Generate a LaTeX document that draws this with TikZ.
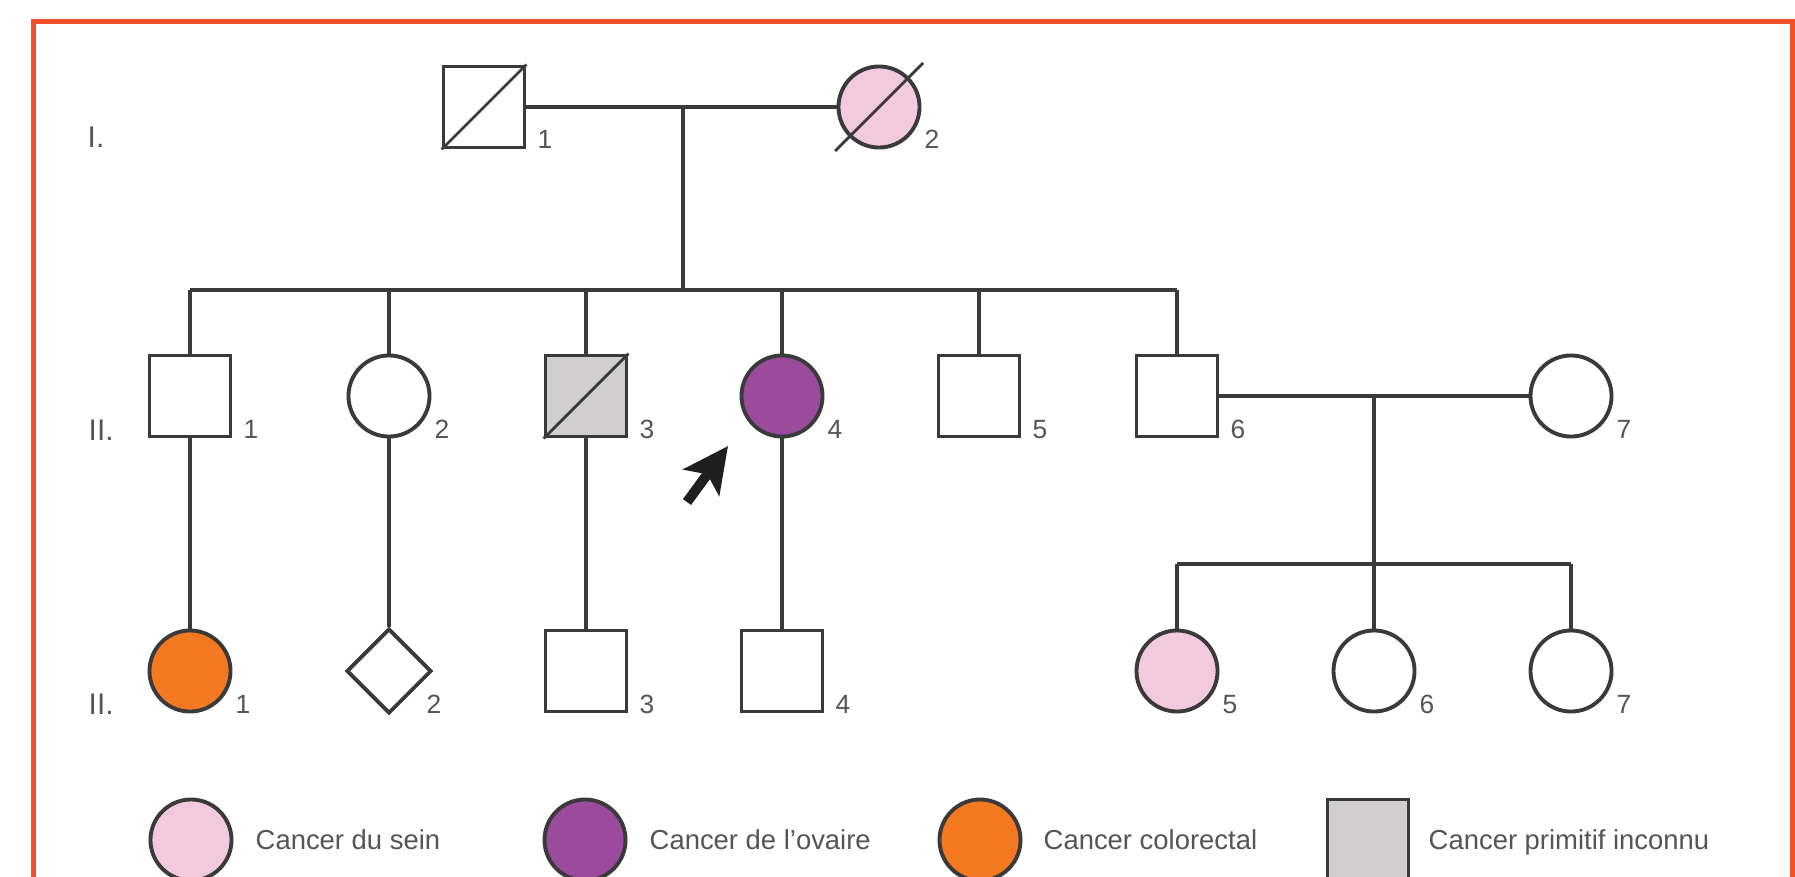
\documentclass[tikz,border=0pt]{standalone}
\usepackage{fontspec}
\setmainfont{Liberation Sans}
\usepackage{xcolor}
\usepackage{tikz}
\usetikzlibrary{arrows.meta,positioning,shapes,calc}

\definecolor{framecol}{RGB}{241,81,38}
\definecolor{linecol}{RGB}{58,58,58}
\definecolor{sein}{RGB}{243,201,222}
\definecolor{ovaire}{RGB}{156,74,156}
\definecolor{colon}{RGB}{244,121,32}
\definecolor{inconnu}{RGB}{208,206,207}
\definecolor{txtcol}{RGB}{85,85,85}

\tikzset{
  ind/.style={draw=linecol, line width=1.1pt, fill=white, inner sep=0pt, minimum size=8.1mm},
  male/.style={ind, rectangle},
  female/.style={ind, circle},
  unk/.style={ind, diamond, minimum size=8.5mm},
  link/.style={draw=linecol, line width=1.1pt},
  dead/.style={draw=linecol, line width=0.8pt},
  num/.style={font=\fontsize{7.5}{9}\selectfont, text=txtcol, inner sep=0pt, anchor=base west},
  gen/.style={font=\fontsize{8.5}{10}\selectfont, text=txtcol, inner sep=0pt, anchor=base west},
  legtext/.style={font=\fontsize{7.8}{9}\selectfont, text=txtcol, inner sep=0pt, anchor=base west},
}

\newcommand{\sqnum}[2]{\node[num] (#1n) at ($(#1.center)+(53,42)$) {#2};}
\newcommand{\cinum}[2]{\node[num] (#1n) at ($(#1.center)+(45,42)$) {#2};}

\begin{document}
\begin{tikzpicture}[x=0.01cm, y=-0.01cm]

\useasboundingbox (0,0) rectangle (1795,876);
\clip (0,0) rectangle (1795,876);
\fill[white] (0,0) rectangle (1795,876);

% Frame
\draw[draw=framecol, line width=0.55mm] (33.5,21.5) rectangle (1792.5,960);

% Generation labels
\node[gen] (g1) at (87,148) {I.};
\node[gen] (g2) at (88,440) {II.};
\node[gen] (g3) at (88,714) {II.};

% Generation I
\node[male] (p11) at (484,107) {};
\node[female, fill=sein] (p12) at (879,107) {};
\draw[dead] (p11.south west) -- (p11.north east);
\draw[dead] ($(p12.center)+(-44,44)$) -- ($(p12.center)+(44,-44)$);
\sqnum{p11}{1}
\cinum{p12}{2}

\draw[link] (p11.east) -- (p12.west);
\coordinate (c1) at (683,107);
\coordinate (s1) at (683,290);
\draw[link] (c1) -- (s1);

% Generation II
\node[male] (p21) at (190,396) {};
\node[female] (p22) at (389,396) {};
\node[male, fill=inconnu] (p23) at (586,396) {};
\node[female, fill=ovaire] (p24) at (782,396) {};
\node[male] (p25) at (979,396) {};
\node[male] (p26) at (1177,396) {};
\node[female] (p27) at (1571,396) {};
\draw[dead] (p23.south west) -- (p23.north east);
\sqnum{p21}{1}
\cinum{p22}{2}
\sqnum{p23}{3}
\cinum{p24}{4}
\sqnum{p25}{5}
\sqnum{p26}{6}
\cinum{p27}{7}

\draw[link] (p21 |- s1) -- (p26 |- s1);
\foreach \i in {1,...,6}
  \draw[link] (p2\i |- s1) -- (p2\i.north);

\draw[link] (p26.east) -- (p27.west);
\coordinate (c2) at (1374,396);
\coordinate (s2) at (1374,564);
\draw[link] (c2) -- (s2);

% Proband arrow
\coordinate (atail) at (687,502);
\coordinate (ahead) at (728,446);
\draw[line width=1mm, draw=black!88, -{Stealth[length=4.5mm, width=4.4mm, inset=1mm]}] (atail) -- (ahead);

% Generation III
\node[female, fill=colon] (p31) at (190,671) {};
\node[unk] (p32) at (389,671) {};
\node[male] (p33) at (586,671) {};
\node[male] (p34) at (782,671) {};
\node[female, fill=sein] (p35) at (1177,671) {};
\node[female] (p36) at (1374,671) {};
\node[female] (p37) at (1571,671) {};
\cinum{p31}{1}
\node[num] (p32n) at ($(p32.center)+(37,42)$) {2};
\sqnum{p33}{3}
\sqnum{p34}{4}
\cinum{p35}{5}
\cinum{p36}{6}
\cinum{p37}{7}

\draw[link] (p21.south) -- (p31.north);
\draw[link] (p22.south) -- (p32.north);
\draw[link] (p23.south) -- (p33.north);
\draw[link] (p24.south) -- (p34.north);

\draw[link] (p35 |- s2) -- (p37 |- s2);
\draw[link] (s2) -- (p36.north);
\draw[link] (p35 |- s2) -- (p35.north);
\draw[link] (p37 |- s2) -- (p37.north);

% Legend
\node[female, fill=sein] (leg1) at (191,840) {};
\node[legtext] (legt1) at (255,849) {Cancer du sein};
\node[female, fill=ovaire] (leg2) at (585,840) {};
\node[legtext] (legt2) at (649,849) {Cancer de l'ovaire};
\node[female, fill=colon] (leg3) at (980,840) {};
\node[legtext] (legt3) at (1043,849) {Cancer colorectal};
\node[male, fill=inconnu] (leg4) at (1368,840) {};
\node[legtext] (legt4) at (1428,849) {Cancer primitif inconnu};

\end{tikzpicture}
\end{document}
